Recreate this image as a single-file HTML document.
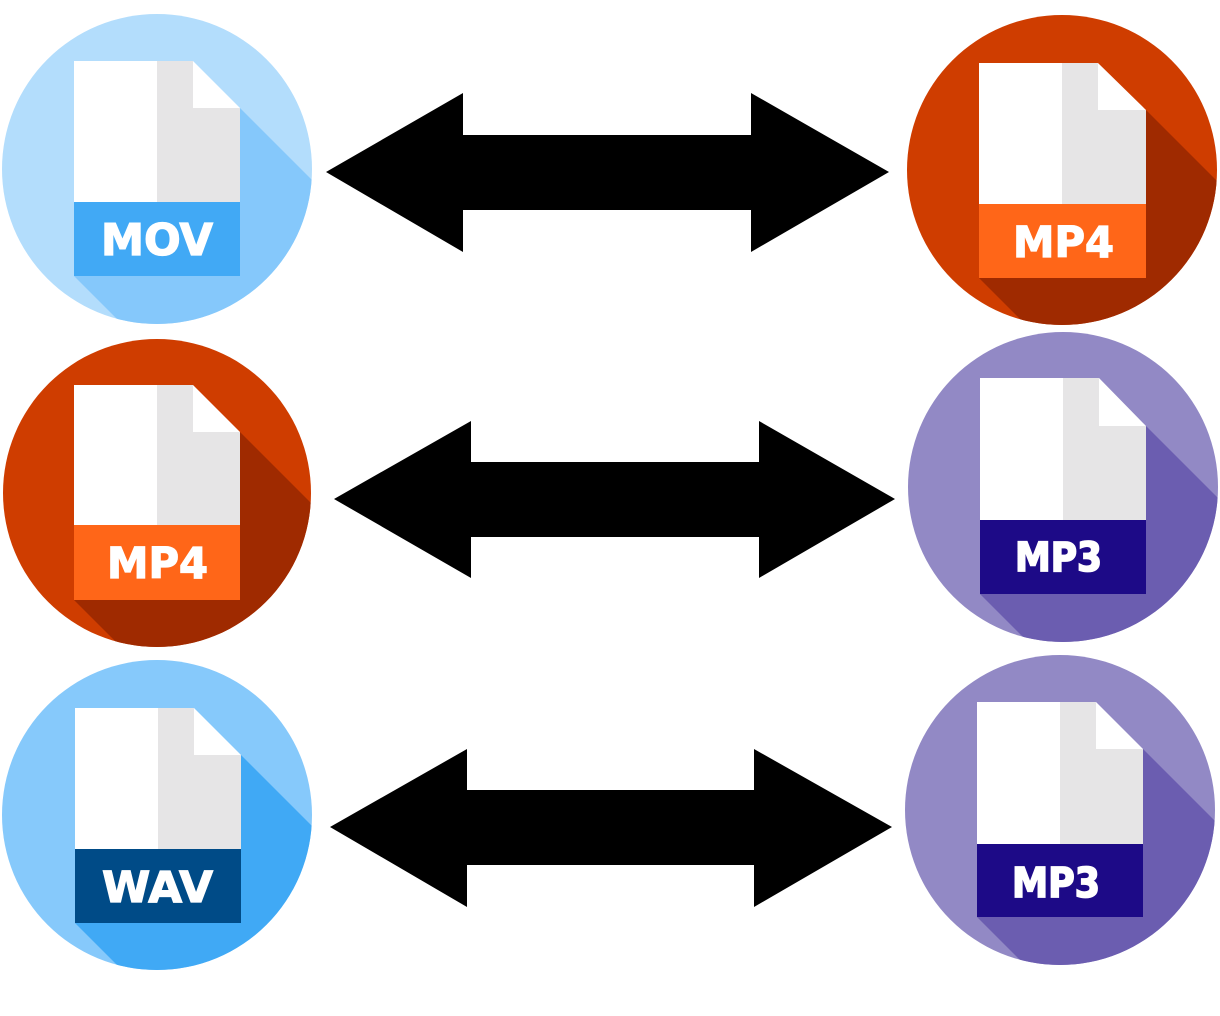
<!DOCTYPE html>
<html>
<head>
<meta charset="utf-8">
<style>
  html,body{margin:0;padding:0;background:#ffffff;width:1220px;height:1016px;overflow:hidden;}
  svg{display:block;position:absolute;left:0;top:0;}
  .lbl{font-family:"DejaVu Sans","Liberation Sans",sans-serif;font-weight:bold;fill:#ffffff;stroke:#ffffff;stroke-width:1.3;}
</style>
</head>
<body>
<svg width="1220" height="1016" viewBox="0 0 1220 1016" xmlns="http://www.w3.org/2000/svg">
  <rect width="1220" height="1016" fill="#ffffff"/>
  <defs>
    <clipPath id="c1"><circle cx="157" cy="169" r="155"/></clipPath>
    <clipPath id="c2"><circle cx="1062" cy="170" r="155"/></clipPath>
    <clipPath id="c3"><circle cx="157" cy="493" r="154"/></clipPath>
    <clipPath id="c4"><circle cx="1063" cy="487" r="155"/></clipPath>
    <clipPath id="c5"><circle cx="157" cy="815" r="155"/></clipPath>
    <clipPath id="c6"><circle cx="1060" cy="810" r="155"/></clipPath>
  </defs>

  <!-- ICON 1: MOV -->
  <circle cx="157" cy="169" r="155" fill="#b3ddfc"/>
  <polygon clip-path="url(#c1)" points="240,108 317,185 317,329 127,329 74,276" fill="#85c8fb"/>
  <polygon points="74,61 193,61 240,108 240,202 74,202" fill="#ffffff"/>
  <polygon points="157,61 193,61 193,108 240,108 240,202 157,202" fill="#e6e5e6"/>
  <rect x="74" y="202" width="166" height="74" fill="#41a9f5"/>
  <text class="lbl" x="101" y="255" font-size="44" textLength="112" lengthAdjust="spacingAndGlyphs">MOV</text>

  <!-- ICON 2: MP4 right top -->
  <circle cx="1062" cy="170" r="155" fill="#cf3d00"/>
  <polygon clip-path="url(#c2)" points="1146,110 1220,184 1220,330 1031,330 979,278" fill="#9f2a00"/>
  <polygon points="979,63 1098,63 1146,110 1146,204 979,204" fill="#ffffff"/>
  <polygon points="1062,63 1098,63 1098,110 1146,110 1146,204 1062,204" fill="#e6e5e6"/>
  <rect x="979" y="204" width="167" height="74" fill="#ff6618"/>
  <text class="lbl" x="1013" y="257" font-size="43" textLength="101" lengthAdjust="spacingAndGlyphs">MP4</text>

  <!-- ICON 3: MP4 left middle -->
  <circle cx="157" cy="493" r="154" fill="#cf3d00"/>
  <polygon clip-path="url(#c3)" points="240,432 316,508 316,652 126,652 74,600" fill="#9f2a00"/>
  <polygon points="74,385 193,385 240,432 240,525 74,525" fill="#ffffff"/>
  <polygon points="157,385 193,385 193,432 240,432 240,525 157,525" fill="#e6e5e6"/>
  <rect x="74" y="525" width="166" height="75" fill="#ff6618"/>
  <text class="lbl" x="107" y="578" font-size="43" textLength="101" lengthAdjust="spacingAndGlyphs">MP4</text>

  <!-- ICON 4: MP3 right middle -->
  <circle cx="1063" cy="487" r="155" fill="#9289c5"/>
  <polygon clip-path="url(#c4)" points="1146,426 1220,500 1220,647 1033,647 980,594" fill="#6b5db0"/>
  <polygon points="980,378 1099,378 1146,426 1146,520 980,520" fill="#ffffff"/>
  <polygon points="1063,378 1099,378 1099,426 1146,426 1146,520 1063,520" fill="#e6e5e6"/>
  <rect x="980" y="520" width="166" height="74" fill="#1d0a87"/>
  <text class="lbl" x="1015" y="571" font-size="40" textLength="87" lengthAdjust="spacingAndGlyphs" style="stroke-width:1.8">MP3</text>

  <!-- ICON 5: WAV -->
  <circle cx="157" cy="815" r="155" fill="#86c9fb"/>
  <polygon clip-path="url(#c5)" points="241,755 317,831 317,975 127,975 75,923" fill="#40a9f5"/>
  <polygon points="75,708 194,708 241,755 241,849 75,849" fill="#ffffff"/>
  <polygon points="158,708 194,708 194,755 241,755 241,849 158,849" fill="#e6e5e6"/>
  <rect x="75" y="849" width="166" height="74" fill="#004b87"/>
  <text class="lbl" x="102" y="902" font-size="43" textLength="111" lengthAdjust="spacingAndGlyphs">WAV</text>

  <!-- ICON 6: MP3 right bottom -->
  <circle cx="1060" cy="810" r="155" fill="#9289c5"/>
  <polygon clip-path="url(#c6)" points="1143,749 1220,826 1220,970 1030,970 977,917" fill="#6b5db0"/>
  <polygon points="977,702 1096,702 1143,749 1143,844 977,844" fill="#ffffff"/>
  <polygon points="1060,702 1096,702 1096,749 1143,749 1143,844 1060,844" fill="#e6e5e6"/>
  <rect x="977" y="844" width="166" height="73" fill="#1d0a87"/>
  <text class="lbl" x="1012" y="897" font-size="41" textLength="88" lengthAdjust="spacingAndGlyphs" style="stroke-width:1.8">MP3</text>

  <!-- ARROWS -->
  <polygon fill="#000000" points="326,172 463,93 463,135 751,135 751,93 889,172 751,252 751,210 463,210 463,252"/>
  <polygon fill="#000000" points="334,499 471,421 471,462 759,462 759,421 895,499 759,578 759,537 471,537 471,578"/>
  <polygon fill="#000000" points="330,827 467,749 467,790 754,790 754,749 892,827 754,907 754,865 467,865 467,907"/>
</svg>
</body>
</html>
